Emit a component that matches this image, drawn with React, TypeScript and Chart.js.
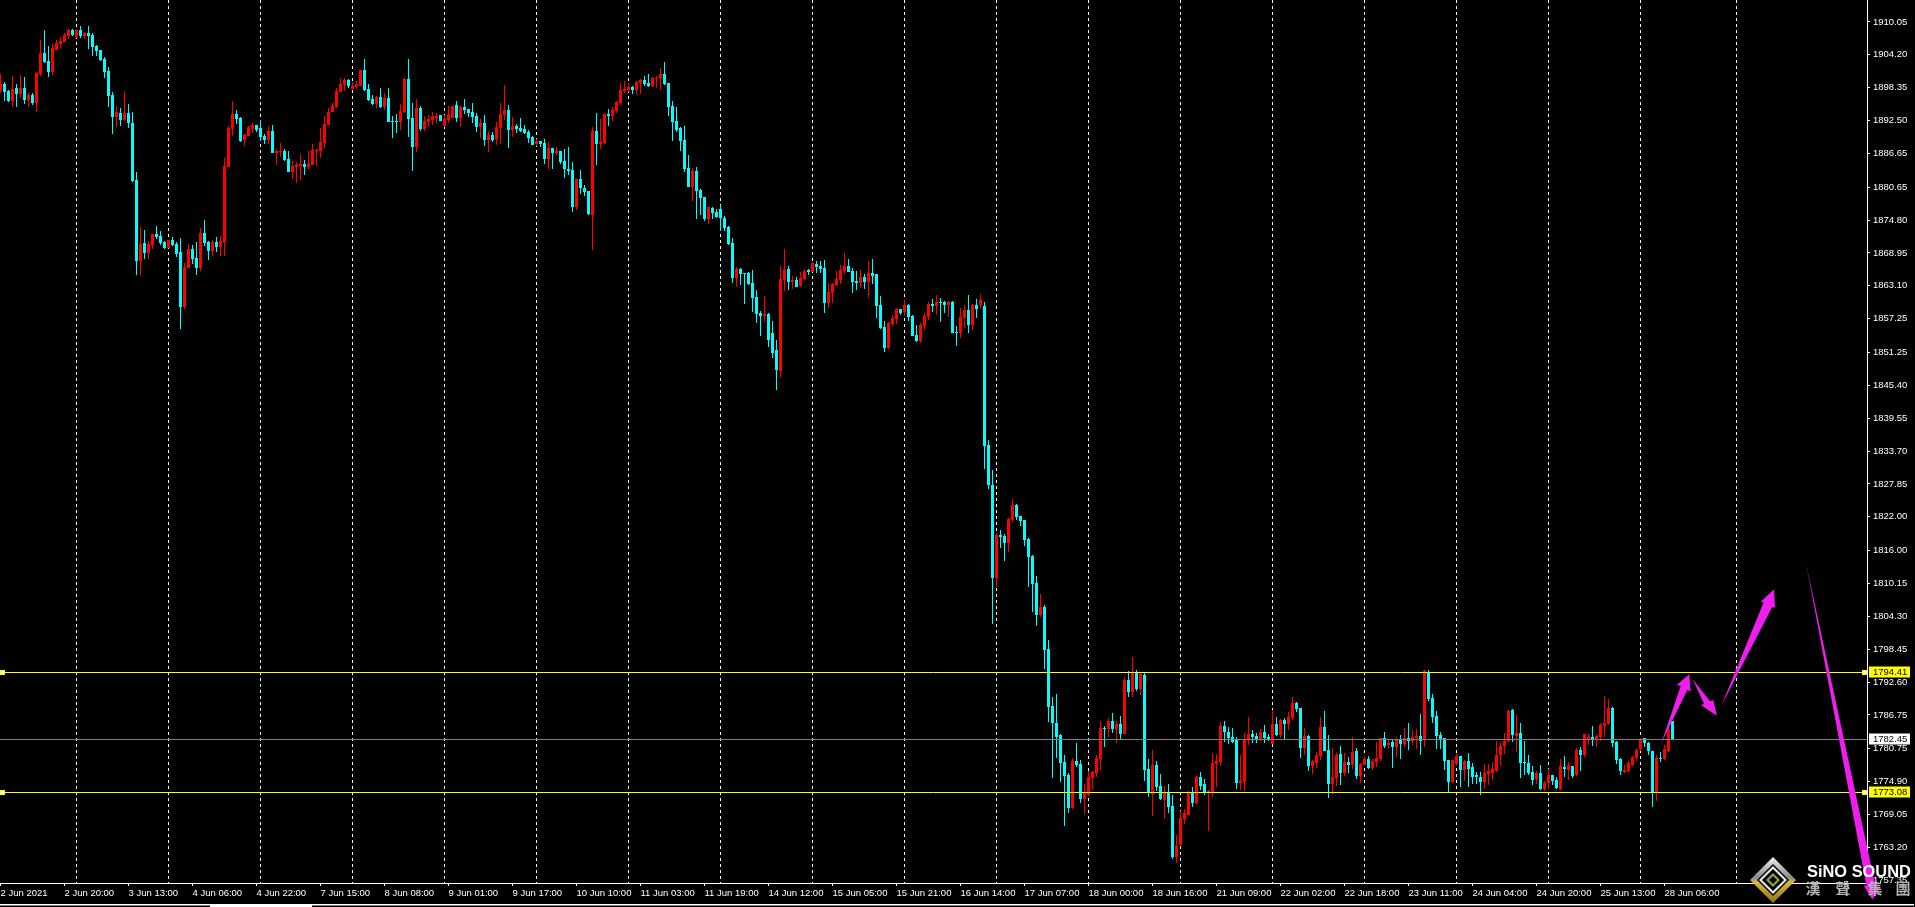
import React, { useEffect, useRef } from "react";
import { Chart, registerables } from "chart.js";

Chart.register(...registerables);

const opens = [
1897.7,1899.1,1897.8,1896.0,1898.3,1897.2,1898.3,1896.2,1897.1,1895.7,
1900.8,1904.5,1903.1,1901.2,1905.1,1906.1,1906.5,1907.6,1908.6,1907.4,
1908.6,1907.6,1908.1,1907.7,1905.8,1905.1,1903.5,1901.3,1897.1,1893.1,
1893.9,1892.6,1893.9,1892.1,1882.0,1867.5,1870.7,1869.0,1870.4,1872.3,
1872.0,1870.9,1869.8,1871.3,1870.6,1869.1,1859.4,1866.3,1869.7,1868.1,
1866.3,1872.5,1870.9,1869.3,1870.9,1870.0,1870.9,1884.2,1891.0,1893.7,
1893.0,1889.0,1889.8,1891.0,1891.7,1891.2,1889.8,1889.0,1890.6,1886.7,
1886.9,1887.1,1885.7,1883.4,1884.2,1884.4,1884.8,1884.2,1884.6,1887.1,
1887.1,1888.5,1891.7,1894.0,1894.9,1897.6,1898.8,1899.7,1898.1,1898.5,
1898.7,1901.5,1898.1,1896.3,1895.5,1896.7,1894.9,1896.5,1892.4,1892.4,
1892.3,1894.0,1899.9,1893.0,1887.8,1894.7,1891.0,1892.3,1892.6,1893.0,
1893.5,1891.5,1892.6,1893.0,1895.3,1893.0,1894.9,1894.6,1894.0,1893.3,
1891.4,1892.1,1889.0,1889.9,1889.2,1891.2,1893.5,1894.4,1890.8,1891.5,
1891.2,1891.0,1890.5,1889.6,1888.3,1888.9,1888.5,1885.7,1887.6,1886.8,
1887.1,1885.3,1883.9,1883.7,1877.1,1882.1,1880.5,1880.0,1875.7,1890.7,
1888.3,1888.5,1893.7,1893.3,1894.2,1895.6,1897.8,1898.0,1898.5,1898.0,
1899.2,1899.7,1899.2,1898.7,1899.9,1900.1,1900.8,1899.2,1895.1,1892.4,
1891.2,1889.0,1884.1,1880.7,1883.5,1880.2,1878.9,1875.0,1876.9,1876.2,
1876.8,1875.2,1873.6,1870.7,1864.5,1866.1,1865.4,1865.4,1863.6,1861.1,
1858.3,1857.7,1858.1,1854.7,1851.7,1848.0,1864.1,1866.1,1863.8,1864.1,
1863.1,1864.3,1865.9,1865.6,1867.0,1866.6,1866.3,1860.1,1861.8,1863.3,
1864.1,1865.7,1866.6,1865.7,1864.0,1863.6,1864.7,1863.8,1865.4,1865.2,
1859.7,1855.8,1852.0,1856.3,1857.2,1859.0,1858.5,1859.7,1857.7,1854.4,
1853.3,1856.0,1857.6,1859.9,1859.5,1860.2,1860.2,1859.7,1860.2,1854.9,
1854.7,1857.4,1858.8,1856.1,1859.7,1859.7,1859.5,1834.8,1827.7,1811.1,
1818.8,1818.6,1817.4,1821.4,1824.1,1822.2,1821.4,1818.1,1815.0,1810.2,
1804.5,1806.0,1798.5,1788.4,1785.3,1783.2,1778.4,1776.1,1770.2,1778.6,
1778.0,1771.8,1772.5,1775.5,1776.4,1778.9,1784.4,1784.3,1785.7,1784.3,
1785.2,1783.4,1793.0,1790.8,1794.4,1791.4,1793.9,1777.2,1772.7,1777.9,
1774.1,1771.6,1772.9,1770.6,1761.5,1763.6,1768.2,1769.0,1772.9,1771.1,
1775.7,1774.5,1773.1,1773.1,1778.0,1778.4,1784.8,1783.7,1782.8,1782.5,
1774.7,1774.8,1782.3,1783.4,1783.0,1782.5,1783.7,1782.8,1781.6,1785.2,
1783.2,1785.9,1785.2,1786.2,1788.9,1788.0,1780.9,1783.0,1777.7,1778.2,
1779.5,1784.6,1780.5,1774.5,1775.6,1779.8,1776.4,1778.4,1777.9,1780.3,
1775.9,1777.9,1778.9,1777.3,1778.4,1778.9,1782.7,1781.4,1782.0,1781.1,
1782.5,1781.6,1782.7,1782.1,1782.7,1783.0,1782.3,1794.4,1789.8,1786.6,
1783.2,1782.7,1778.7,1774.8,1778.0,1779.5,1777.0,1778.6,1777.5,1776.1,
1775.7,1774.8,1776.3,1776.4,1776.8,1779.6,1781.2,1782.1,1787.6,1783.0,
1783.6,1778.4,1778.2,1776.6,1775.4,1776.4,1773.6,1774.7,1776.1,1775.2,
1773.6,1777.5,1777.0,1777.7,1776.1,1780.5,1779.6,1782.3,1782.8,1782.3,
1782.8,1784.8,1785.2,1788.0,1782.0,1778.9,1776.6,1776.8,1777.9,1779.1,
1780.7,1782.7,1781.8,1780.4,1773.1,1779.1,1778.9,1780.4,1785.7,
];

const closes = [
1899.1,1897.6,1896.0,1898.2,1897.2,1898.3,1896.2,1897.1,1895.6,1901.0,
1904.5,1902.9,1901.2,1905.4,1906.3,1906.7,1907.7,1908.6,1907.7,1908.6,
1907.6,1908.1,1907.6,1905.6,1904.9,1903.3,1901.2,1896.9,1893.1,1894.0,
1892.6,1893.9,1892.1,1881.8,1867.5,1870.6,1869.0,1870.6,1872.3,1871.8,
1870.7,1869.8,1871.3,1870.4,1868.8,1859.4,1866.5,1869.7,1867.9,1866.3,
1872.5,1870.7,1869.3,1870.9,1870.0,1871.1,1884.4,1891.2,1893.7,1892.8,
1888.9,1889.9,1891.4,1891.7,1890.8,1889.6,1889.0,1890.6,1886.7,1887.1,
1887.1,1885.5,1883.4,1884.4,1884.6,1884.8,1884.2,1884.8,1887.3,1887.3,
1888.7,1891.9,1894.0,1895.1,1897.8,1899.0,1899.7,1898.7,1898.7,1898.8,
1901.5,1897.9,1896.2,1895.5,1896.7,1894.9,1896.5,1892.2,1892.2,1892.2,
1894.2,1899.9,1892.8,1887.8,1894.7,1891.0,1892.4,1892.8,1893.3,1893.3,
1892.4,1892.8,1893.5,1895.1,1893.0,1894.9,1894.4,1893.9,1893.2,1891.4,
1892.1,1889.0,1889.9,1889.0,1891.4,1893.7,1894.4,1890.8,1891.5,1891.0,
1890.7,1890.3,1889.4,1888.2,1888.9,1888.3,1885.7,1887.6,1886.8,1887.1,
1885.1,1883.9,1883.5,1877.1,1882.1,1880.5,1879.8,1875.9,1890.7,1888.3,
1888.7,1893.7,1893.3,1894.4,1895.8,1898.0,1898.1,1898.5,1898.0,1899.4,
1899.7,1899.0,1898.7,1900.1,1900.1,1900.8,1899.0,1894.9,1892.3,1890.8,
1888.9,1883.9,1880.7,1883.5,1880.0,1878.7,1875.0,1877.1,1876.1,1875.3,
1875.2,1873.4,1870.5,1864.5,1866.1,1865.2,1865.2,1863.4,1860.9,1858.1,
1857.7,1858.1,1853.5,1851.1,1848.1,1864.3,1865.9,1863.8,1864.1,1862.9,
1864.5,1865.7,1865.6,1867.2,1866.5,1866.1,1860.1,1862.0,1863.4,1864.3,
1865.9,1866.6,1865.6,1863.8,1863.6,1864.7,1863.8,1865.4,1864.9,1859.5,
1855.6,1852.0,1856.5,1857.4,1859.0,1858.3,1859.7,1857.6,1854.2,1853.3,
1856.1,1857.7,1859.9,1859.5,1860.2,1860.1,1859.7,1860.2,1854.7,1854.7,
1857.6,1858.8,1856.1,1859.7,1859.0,1860.6,1834.6,1827.7,1811.1,1818.8,
1818.4,1817.4,1821.6,1824.1,1822.0,1821.3,1817.9,1814.9,1810.1,1804.5,
1806.0,1798.3,1788.2,1785.3,1782.8,1778.2,1775.9,1770.2,1778.6,1777.9,
1771.8,1773.1,1775.7,1776.6,1779.1,1784.4,1784.3,1785.7,1784.3,1785.2,
1783.4,1793.0,1790.8,1794.4,1791.4,1794.0,1777.0,1773.1,1777.9,1774.0,
1771.8,1772.9,1770.4,1761.5,1763.5,1768.4,1769.3,1772.9,1771.1,1775.7,
1774.1,1773.1,1773.2,1778.2,1778.6,1784.8,1783.7,1782.7,1782.0,1774.7,
1775.0,1782.5,1783.4,1782.8,1782.5,1783.7,1782.7,1782.3,1785.2,1783.2,
1785.9,1785.2,1786.4,1788.9,1787.8,1780.9,1783.0,1777.7,1778.6,1779.6,
1784.6,1780.3,1774.5,1775.7,1779.6,1776.4,1778.4,1777.9,1780.2,1775.9,
1778.0,1778.9,1777.3,1778.6,1779.1,1782.7,1781.2,1781.8,1781.1,1782.5,
1781.6,1782.7,1782.1,1782.8,1783.0,1782.1,1794.6,1789.6,1786.4,1783.0,
1782.5,1778.6,1774.8,1778.7,1779.5,1777.0,1778.6,1777.2,1775.7,1775.7,
1774.8,1776.4,1776.8,1777.2,1779.6,1781.2,1782.1,1787.5,1783.2,1783.6,
1778.2,1778.2,1776.4,1775.2,1776.4,1773.6,1774.7,1776.1,1775.0,1773.8,
1777.7,1777.1,1777.9,1775.9,1780.5,1779.6,1783.4,1782.8,1782.5,1783.0,
1785.0,1785.3,1788.0,1781.8,1778.7,1776.8,1777.0,1778.2,1779.3,1780.5,
1782.5,1781.8,1780.4,1773.1,1779.1,1778.9,1780.7,1784.1,1782.3,
];

const highs = [
1900.8,1899.3,1897.9,1900.4,1899.1,1900.6,1900.2,1897.5,1897.4,1901.2,
1906.8,1908.6,1905.8,1906.1,1906.8,1907.4,1908.1,1908.8,1908.8,1908.6,
1909.3,1908.3,1909.3,1908.1,1905.9,1905.1,1903.8,1902.0,1897.6,1895.1,
1894.7,1897.8,1895.5,1894.0,1883.4,1873.6,1873.0,1871.1,1872.3,1873.8,
1872.9,1871.1,1871.3,1871.8,1870.9,1871.6,1867.2,1870.6,1870.4,1870.9,
1873.4,1874.8,1871.1,1871.3,1871.8,1872.0,1885.9,1891.5,1896.0,1894.4,
1893.1,1890.1,1891.5,1892.1,1891.7,1892.6,1890.1,1891.5,1891.7,1887.5,
1888.5,1887.5,1887.1,1885.3,1885.1,1886.6,1885.5,1887.1,1888.3,1887.5,
1891.2,1893.3,1894.8,1895.6,1898.3,1900.1,1900.1,1899.9,1899.4,1899.6,
1901.5,1903.5,1899.0,1897.1,1896.9,1898.3,1897.4,1898.3,1893.3,1893.7,
1895.5,1900.1,1903.5,1895.6,1896.3,1895.1,1893.3,1893.5,1894.0,1893.9,
1893.5,1893.5,1895.1,1895.1,1896.0,1895.1,1896.3,1894.6,1895.6,1893.9,
1892.8,1893.5,1890.7,1890.5,1892.3,1895.6,1898.8,1895.3,1893.2,1891.9,
1893.0,1891.7,1890.8,1889.8,1889.2,1888.9,1889.2,1888.7,1887.6,1887.8,
1887.1,1887.5,1887.8,1885.1,1882.1,1883.7,1881.0,1880.0,1891.4,1893.9,
1892.8,1893.9,1894.6,1894.9,1896.0,1899.2,1899.5,1899.2,1898.7,1899.5,
1899.9,1900.4,1900.8,1900.3,1900.4,1901.9,1902.9,1899.2,1896.0,1894.9,
1891.4,1891.5,1886.4,1884.1,1884.2,1880.3,1878.9,1877.1,1877.1,1876.8,
1877.5,1875.5,1873.8,1871.6,1866.4,1866.3,1865.4,1865.6,1865.9,1862.4,
1858.6,1861.3,1858.3,1856.8,1853.5,1866.6,1869.7,1866.6,1864.9,1864.7,
1865.6,1866.1,1866.1,1867.3,1867.5,1867.5,1867.7,1863.6,1863.6,1865.7,
1866.8,1869.0,1867.9,1866.3,1865.7,1865.9,1865.2,1867.5,1867.9,1865.2,
1861.3,1856.9,1856.7,1857.9,1859.2,1859.0,1860.6,1859.9,1857.9,1856.1,
1856.5,1858.3,1860.2,1860.8,1861.5,1860.9,1860.4,1860.4,1860.4,1856.0,
1859.2,1859.7,1861.5,1859.9,1860.8,1861.6,1860.3,1835.7,1830.3,1819.1,
1819.7,1818.9,1821.8,1825.2,1824.3,1822.2,1821.4,1818.2,1815.2,1811.5,
1808.3,1806.3,1800.1,1789.9,1790.5,1783.4,1779.6,1776.4,1779.1,1781.8,
1778.8,1774.5,1776.8,1776.8,1779.6,1785.7,1784.8,1786.2,1787.1,1785.7,
1786.6,1793.5,1794.6,1797.1,1794.8,1794.4,1794.2,1778.9,1780.5,1778.6,
1776.3,1774.1,1774.5,1772.5,1765.4,1769.7,1770.0,1773.2,1774.0,1775.9,
1776.6,1775.4,1773.4,1780.0,1779.8,1785.5,1785.7,1784.6,1784.4,1782.8,
1779.6,1783.6,1786.4,1784.1,1783.6,1784.3,1785.0,1783.4,1787.6,1786.4,
1786.0,1786.2,1787.3,1790.0,1789.1,1788.0,1784.4,1783.2,1778.7,1780.2,
1786.4,1787.5,1783.2,1780.9,1780.0,1781.2,1780.0,1779.3,1782.8,1780.9,
1778.2,1779.5,1779.5,1778.9,1782.0,1782.7,1783.7,1782.5,1782.3,1782.8,
1783.2,1784.4,1785.3,1784.1,1784.3,1786.9,1794.8,1794.8,1790.5,1787.5,
1783.7,1782.7,1778.7,1778.7,1779.8,1779.5,1778.7,1780.0,1778.2,1776.6,
1776.6,1778.0,1778.0,1778.2,1782.1,1782.0,1783.6,1787.6,1787.8,1786.8,
1785.3,1782.1,1779.6,1777.7,1776.8,1777.9,1775.0,1777.1,1776.1,1775.7,
1778.9,1779.5,1778.4,1777.7,1780.9,1781.1,1783.4,1783.4,1784.8,1783.2,
1785.3,1790.1,1789.6,1788.2,1782.1,1779.1,1777.9,1778.6,1779.5,1780.7,
1782.7,1782.7,1782.0,1780.4,1779.6,1780.2,1781.4,1785.0,1785.7,
];

const lows = [
1897.4,1895.9,1895.8,1895.0,1895.0,1896.6,1895.5,1895.0,1895.3,1894.1,
1900.4,1902.8,1900.3,1900.6,1905.1,1905.2,1906.5,1907.0,1907.6,1907.2,
1907.2,1907.0,1905.2,1904.0,1904.0,1903.1,1900.1,1894.9,1890.1,1891.4,
1891.5,1892.4,1891.2,1881.6,1865.0,1865.0,1867.9,1867.9,1869.7,1871.5,
1870.4,1869.7,1869.8,1870.2,1868.2,1855.4,1859.0,1866.3,1867.0,1865.0,
1865.8,1870.2,1867.7,1868.4,1869.1,1868.4,1868.4,1884.2,1889.8,1891.9,
1888.7,1888.0,1889.8,1890.3,1890.5,1888.9,1888.3,1888.3,1886.7,1884.6,
1886.0,1885.3,1883.4,1882.1,1881.4,1881.9,1882.8,1883.9,1884.6,1884.4,
1885.9,1887.6,1891.7,1894.0,1894.7,1897.6,1897.8,1898.3,1898.1,1898.1,
1898.7,1897.8,1896.0,1895.3,1894.7,1894.7,1894.4,1892.2,1889.4,1890.3,
1890.8,1893.9,1889.6,1883.5,1886.9,1890.7,1890.7,1891.4,1891.7,1892.1,
1892.4,1891.4,1892.1,1893.0,1892.3,1891.4,1893.7,1893.2,1892.1,1890.5,
1889.4,1888.0,1886.9,1888.7,1888.2,1888.3,1892.6,1887.6,1889.6,1890.3,
1890.5,1890.1,1888.5,1888.2,1888.0,1887.8,1884.8,1883.9,1883.9,1886.4,
1884.8,1882.3,1882.8,1876.2,1876.6,1879.4,1879.1,1875.7,1869.5,1884.6,
1887.5,1888.3,1891.5,1892.4,1893.9,1895.3,1897.4,1897.6,1897.2,1897.1,
1897.2,1898.7,1898.5,1898.5,1898.3,1898.0,1898.8,1893.3,1888.9,1890.5,
1887.1,1883.4,1880.7,1878.2,1875.0,1875.7,1874.6,1874.1,1875.0,1875.2,
1872.9,1872.9,1870.4,1863.6,1862.9,1863.3,1859.9,1863.3,1858.4,1856.5,
1854.1,1856.7,1852.3,1850.2,1844.6,1846.7,1862.2,1862.4,1862.5,1862.9,
1862.9,1864.1,1865.0,1865.6,1865.4,1865.4,1858.3,1859.2,1860.1,1863.1,
1863.4,1865.2,1865.6,1861.8,1862.4,1862.7,1862.5,1860.9,1863.4,1857.4,
1855.4,1851.3,1851.9,1856.0,1856.3,1857.9,1857.7,1856.8,1854.2,1853.1,
1852.9,1855.2,1857.0,1858.5,1857.9,1856.7,1858.3,1857.6,1854.7,1852.4,
1853.8,1855.6,1854.7,1855.3,1857.4,1859.1,1830.5,1827.0,1802.9,1809.5,
1816.5,1814.2,1815.8,1821.1,1821.4,1820.4,1816.8,1809.5,1805.1,1802.6,
1804.2,1794.9,1785.5,1775.5,1779.1,1774.8,1767.0,1769.3,1770.0,1777.5,
1771.1,1769.1,1772.3,1773.4,1775.7,1777.0,1781.1,1782.8,1783.6,1781.8,
1782.5,1783.4,1790.0,1790.0,1791.0,1790.3,1775.0,1772.2,1768.8,1773.2,
1771.6,1768.2,1769.3,1761.1,1760.4,1763.6,1767.4,1769.0,1770.4,1770.9,
1773.4,1772.5,1766.1,1772.2,1774.0,1777.7,1781.9,1781.6,1781.8,1773.6,
1773.4,1773.2,1781.4,1781.8,1781.8,1782.1,1781.8,1782.1,1781.6,1783.0,
1782.7,1782.5,1784.1,1785.9,1787.3,1779.1,1779.6,1776.8,1776.3,1777.3,
1778.7,1780.3,1772.0,1772.7,1774.1,1774.3,1775.9,1776.4,1777.2,1775.4,
1774.7,1777.9,1777.2,1777.0,1777.5,1778.6,1780.9,1780.7,1777.3,1779.3,
1778.9,1781.1,1780.5,1781.4,1780.7,1779.6,1781.1,1789.2,1785.3,1780.7,
1780.7,1777.0,1773.1,1774.7,1777.7,1774.0,1775.0,1774.0,1774.5,1774.5,
1772.5,1773.6,1774.3,1775.2,1776.6,1777.7,1779.8,1782.0,1782.0,1780.2,
1775.5,1776.1,1776.1,1774.3,1774.5,1773.4,1773.2,1773.6,1774.3,1773.6,
1773.4,1775.7,1775.2,1775.5,1775.9,1776.8,1779.3,1781.4,1781.2,1781.1,
1782.1,1782.8,1785.0,1781.1,1778.0,1776.1,1776.4,1776.6,1777.7,1778.6,
1780.4,1781.1,1779.6,1770.4,1771.5,1778.4,1778.7,1780.2,1782.3,
];

const timeLabels = [
  "2 Jun 2021","2 Jun 20:00","3 Jun 13:00","4 Jun 06:00","4 Jun 22:00","7 Jun 15:00","8 Jun 08:00",
  "9 Jun 01:00","9 Jun 17:00","10 Jun 10:00","11 Jun 03:00","11 Jun 19:00","14 Jun 12:00","15 Jun 05:00",
  "15 Jun 21:00","16 Jun 14:00","17 Jun 07:00","18 Jun 00:00","18 Jun 16:00","21 Jun 09:00","22 Jun 02:00",
  "22 Jun 18:00","23 Jun 11:00","24 Jun 04:00","24 Jun 20:00","25 Jun 13:00","28 Jun 06:00",
];
const timeTickBars = [0,16,32,48,64,80,96,112,128,144,160,176,192,208,224,240,256,272,288,304,320,336,352,368,384,400,416];
const gridBars = [19,42,65,88,111,134,157,180,203,226,249,272,295,318,341,364,387,410,434];

const priceTicks = [
  1910.05,1904.2,1898.35,1892.5,1886.65,1880.65,1874.8,1868.95,1863.1,1857.25,1851.25,1845.4,1839.55,
  1833.7,1827.85,1822,1816,1810.15,1804.3,1798.45,1792.6,1786.75,1780.75,1774.9,1769.05,1763.2,1757.35,
];

const resistanceLevel = 1794.41;
const currentPrice = 1782.45;
const supportLevel = 1773.08;

const arrowUp1Bars = [415.2,421.7,422.55,422.2,419.05,420.05];
const arrowUp1Prices = [1781.7,1791.2,1790.9,1794.0,1792.07,1791.9];
const arrowDownBars = [423.05,427.4,428.2,429.1,425.1,425.9];
const arrowDownPrices = [1793.1,1789.2,1789.4,1786.6,1788.5,1788.7];
const arrowUp2Bars = [430.2,442.9,443.6,443.4,440.05,440.8];
const arrowUp2Prices = [1788.4,1805.9,1805.8,1809.1,1806.9,1806.8];
const arrowLongBars = [451.4,468.75,469.9,467.95,465.7,466.5];
const arrowLongPrices = [1813.7,1756.3,1755.9,1753.9,1756.5,1756.3];

const UP = "#ff0000";
const DOWN = "#00ffff";
const FONT = '"Liberation Sans", Arial, sans-serif';
const X_MIN = -0.125;
const X_MAX = 466.625;
const Y_MAX = 1913.96;
const Y_MIN = 1756.84;

const candlePixels = {
  id: "candlePixels",
  afterDatasetsUpdate(chart: any) {
    chart.data.datasets.forEach((ds: any, idx: number) => {
      const meta = chart.getDatasetMeta(idx);
      if (ds.type === "line") {
        meta.data.forEach((p: any) => {
          p.y = Math.round(p.y) + 0.5;
        });
        if (meta.dataset) meta.dataset.points = meta.data;
      } else {
        meta.data.forEach((b: any) => {
          let top = Math.round(b.y);
          let bottom = Math.round(b.base);
          if (bottom <= top) bottom = top + 1;
          b.y = top;
          b.base = bottom;
          b.height = bottom - top;
        });
      }
    });
  },
};

function polygon(chart: any, bars: number[], prices: number[]) {
  const { ctx, scales } = chart;
  ctx.beginPath();
  bars.forEach((b, i) => {
    const x = scales.x.getPixelForValue(b);
    const y = scales.y.getPixelForValue(prices[i]);
    if (i === 0) ctx.moveTo(x, y);
    else ctx.lineTo(x, y);
  });
  ctx.closePath();
  ctx.fill();
}

function drawLogo(ctx: CanvasRenderingContext2D) {
  const cx = 1773;
  const cy = 880;
  const diamond = (r: number) => {
    ctx.beginPath();
    ctx.moveTo(cx, cy - r);
    ctx.lineTo(cx + r, cy);
    ctx.lineTo(cx, cy + r);
    ctx.lineTo(cx - r, cy);
    ctx.closePath();
  };
  const g = ctx.createLinearGradient(cx, cy - 23, cx, cy + 23);
  g.addColorStop(0, "#f0f0f0");
  g.addColorStop(0.45, "#8a8a8a");
  g.addColorStop(0.55, "#d9b83a");
  g.addColorStop(1, "#8f7410");
  ctx.fillStyle = g;
  diamond(23);
  ctx.fill();
  ctx.fillStyle = "#000";
  diamond(16);
  ctx.fill();
  ctx.fillStyle = "#e8e8e8";
  diamond(14);
  ctx.fill();
  ctx.fillStyle = "#000";
  diamond(11);
  ctx.fill();
  ctx.fillStyle = "#8aa63a";
  diamond(7);
  ctx.fill();
  ctx.fillStyle = "#000";
  diamond(4);
  ctx.fill();
  ctx.fillStyle = "#ffffff";
  ctx.font = `bold 16.4px ${FONT}`;
  ctx.textAlign = "left";
  ctx.textBaseline = "alphabetic";
  ctx.fillText("SiNO SOUND", 1807, 877);
  ctx.fillStyle = "#b4b4b4";
  ctx.font = 'bold 15px "Noto Sans CJK TC"';
  ctx.textAlign = "center";
  ["漢", "聲", "集", "團"].forEach((t, i) => {
    ctx.fillText(t, [1813, 1843, 1875, 1903][i], 894);
  });
}

const overlay = {
  id: "overlay",
  afterDraw(chart: any) {
    const { ctx, scales } = chart;
    ctx.save();
    ctx.fillStyle = "#ffffff";
    ctx.fillRect(0, 904, 1914, 1.5);
    ctx.fillRect(210, 904, 102, 3);
    ctx.fillStyle = "#ee1eee";
    polygon(chart, arrowUp1Bars, arrowUp1Prices);
    polygon(chart, arrowDownBars, arrowDownPrices);
    polygon(chart, arrowUp2Bars, arrowUp2Prices);
    polygon(chart, arrowLongBars, arrowLongPrices);
    drawLogo(ctx);
    const tags: [number, string][] = [
      [resistanceLevel, "#ffff00"],
      [currentPrice, "#ffffff"],
      [supportLevel, "#ffff00"],
    ];
    ctx.font = `9.5px ${FONT}`;
    ctx.textBaseline = "middle";
    ctx.textAlign = "left";
    tags.forEach(([v, c]) => {
      const y = Math.round(scales.y.getPixelForValue(v)) + 0.5;
      ctx.fillStyle = c;
      ctx.fillRect(1869, y - 6, 41, 11);
      ctx.fillStyle = "#000";
      ctx.fillText(v.toFixed(2), 1873, y - 0.5);
      if (c === "#ffff00") {
        [0, 1862].forEach((x) => {
          ctx.fillStyle = "#ffff00";
          ctx.fillRect(x, y - 2.5, 5, 5);
          ctx.fillStyle = "#ffffff";
          ctx.fillRect(x + 1, y - 1.5, 3, 3);
        });
      }
    });
    ctx.restore();
  },
};

export default function App() {
  const ref = useRef<HTMLCanvasElement>(null);
  useEffect(() => {
    document.body.style.margin = "0";
    document.body.style.background = "#000";
    const bars = opens.map((_, i) => i);
    const colors = opens.map((o, i) => (closes[i] >= o ? UP : DOWN));
    const level = (v: number) => [
      { x: X_MIN, y: v },
      { x: X_MAX, y: v },
    ];
    const chart = new Chart(ref.current as HTMLCanvasElement, {
      type: "bar",
      data: {
        datasets: [
          {
            type: "line",
            data: level(resistanceLevel),
            borderColor: "#ffff00",
            borderWidth: 1,
            pointRadius: 0,
            order: 0,
          },
          {
            type: "line",
            data: level(supportLevel),
            borderColor: "#ffff00",
            borderWidth: 1,
            pointRadius: 0,
            order: 0,
          },
          {
            type: "line",
            data: level(currentPrice),
            borderColor: "#808080",
            borderWidth: 1,
            pointRadius: 0,
            order: 0,
          },
          {
            type: "bar",
            data: bars.map((i) => ({ x: i, y: [opens[i], closes[i]] })),
            backgroundColor: colors,
            barThickness: 3,
            grouped: false,
            inflateAmount: 0,
            borderWidth: 0,
            order: 1,
          },
          {
            type: "bar",
            data: bars.map((i) => ({ x: i, y: [lows[i], highs[i]] })),
            backgroundColor: colors,
            barThickness: 1,
            grouped: false,
            inflateAmount: 0,
            borderWidth: 0,
            order: 2,
          },
        ] as any,
      },
      options: {
        animation: false,
        responsive: false,
        events: [],
        layout: { padding: 0, autoPadding: false },
        plugins: { legend: { display: false }, tooltip: { enabled: false } },
        scales: {
          x: {
            type: "linear",
            position: "bottom",
            min: X_MIN,
            max: X_MAX,
            offset: false,
            afterBuildTicks: (s: any) => {
              s.ticks = timeTickBars.map((v) => ({ value: v }));
            },
            afterFit: (s: any) => {
              s.height = 24;
              s.paddingLeft = 0;
              s.paddingRight = 0;
            },
            border: { color: "#ffffff", width: 1 },
            grid: { color: "#ffffff", drawOnChartArea: false, drawTicks: true, tickLength: 3, offset: false },
            ticks: {
              autoSkip: false,
              maxRotation: 0,
              minRotation: 0,
              align: "start",
              padding: 2,
              color: "#ffffff",
              font: { family: FONT, size: 9.5 },
              callback: (v: any) => timeLabels[timeTickBars.indexOf(Number(v))] ?? "",
            },
          },
          xg: {
            type: "linear",
            axis: "x",
            position: "top",
            min: X_MIN,
            max: X_MAX,
            offset: false,
            afterBuildTicks: (s: any) => {
              s.ticks = gridBars.map((v) => ({ value: v }));
            },
            afterFit: (s: any) => {
              s.height = 0;
            },
            border: { display: false, dash: [3, 3] },
            grid: { color: "#ffffff", lineWidth: 1, drawTicks: false, offset: false },
            ticks: { display: false, autoSkip: false },
          },
          y: {
            type: "linear",
            position: "right",
            min: Y_MIN,
            max: Y_MAX,
            afterBuildTicks: (s: any) => {
              s.ticks = priceTicks.map((v) => ({ value: v }));
            },
            afterFit: (s: any) => {
              s.width = 48;
              s.paddingTop = 0;
              s.paddingBottom = 0;
            },
            border: { color: "#ffffff", width: 1 },
            grid: { color: "#ffffff", drawOnChartArea: false, drawTicks: true, tickLength: 3 },
            ticks: {
              autoSkip: false,
              padding: 3,
              color: "#ffffff",
              font: { family: FONT, size: 9.5 },
              callback: (v: any) => Number(v).toFixed(2),
            },
          },
        },
      } as any,
      plugins: [candlePixels, overlay],
    });
    return () => chart.destroy();
  }, []);
  return <canvas ref={ref} width={1915} height={907} style={{ display: "block", background: "#000" }} />;
}
